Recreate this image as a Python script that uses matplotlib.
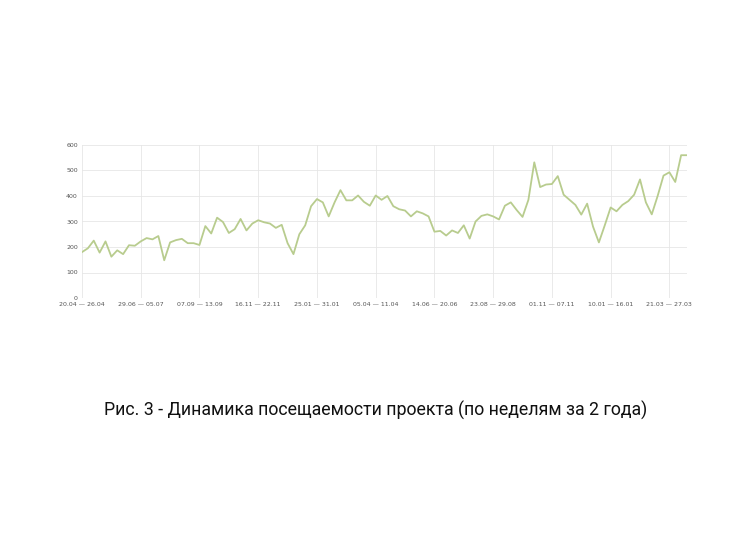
import matplotlib.pyplot as plt

# weekly visits over two years
visits = [180, 195, 225, 178, 222, 162, 187, 172, 207, 205,
          222, 235, 230, 243, 148, 218, 227, 232, 215, 215,
          208, 282, 253, 315, 298, 255, 270, 310, 265, 292,
          305, 297, 292, 275, 287, 215, 172, 250, 285, 360,
          388, 375, 320, 375, 423, 383, 383, 402, 377, 362,
          402, 385, 400, 360, 348, 343, 320, 340, 332, 320,
          260, 263, 245, 265, 255, 285, 233, 300, 322, 328,
          320, 308, 362, 375, 345, 318, 385, 532, 435, 445,
          447, 478, 405, 385, 365, 327, 370, 280, 218, 285,
          355, 340, 365, 380, 405, 465, 375, 328, 400, 480,
          493, 455, 560, 560]
tick_pos = [0, 10, 20, 30, 40, 50, 60, 70, 80, 90, 100]
tick_labels = ["20.04 — 26.04", "29.06 — 05.07", "07.09 — 13.09", "16.11 — 22.11",
               "25.01 — 31.01", "05.04 — 11.04", "14.06 — 20.06", "23.08 — 29.08",
               "01.11 — 07.11", "10.01 — 16.01", "21.03 — 27.03"]
y_ticks = [0, 100, 200, 300, 400, 500, 600]

fig = plt.figure(figsize=(7.51, 5.36), dpi=100)
ax = fig.add_axes([82 / 751, 1 - 298 / 536, 605 / 751, 153 / 536])
ax.plot(range(len(visits)), visits, color="#b8cc8e", lw=1.3)
ax.set_xlim(0, len(visits) - 1)
ax.set_ylim(0, 600)
ax.set_xticks(tick_pos)
ax.set_xticklabels(tick_labels)
ax.set_yticks(y_ticks)
ax.tick_params(labelsize=4.5, colors="#555555", length=0, pad=3)
ax.grid(color="#e6e6e6", lw=0.6)
for s in ax.spines.values():
    s.set_visible(False)

fig.text(0.5, 1 - 410 / 536, "Рис. 3 - Динамика посещаемости проекта (по неделям за 2 года)",
         ha="center", va="center", fontsize=12.8, family="Roboto", color="#111111")

fig.savefig("out.png", dpi=100)
